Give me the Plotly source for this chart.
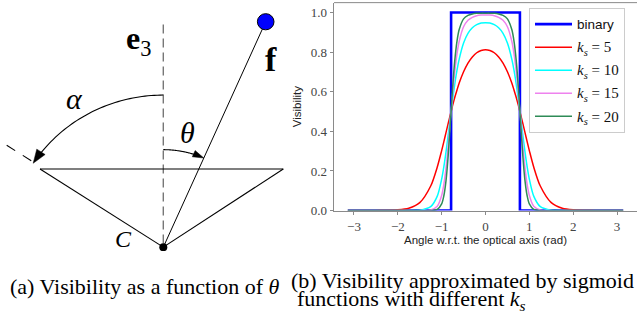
import numpy as np
import plotly.graph_objects as go

# ---------------------------------------------------------------------------
# Visibility vs. angle w.r.t. the optical axis (rad)
# ---------------------------------------------------------------------------
angle = [-3.14, -2.5, -2.0, -1.75, -1.5, -1.25, -1.1, -1.0, -0.95, -0.9, -0.85,
         -0.785, -0.75, -0.7, -0.65, -0.6, -0.5, -0.4, -0.3, -0.2, -0.1, 0.0,
         0.1, 0.2, 0.3, 0.4, 0.5, 0.6, 0.65, 0.7, 0.75, 0.785, 0.85, 0.9, 0.95,
         1.0, 1.1, 1.25, 1.5, 1.75, 2.0, 2.5, 3.14]

vis_k5 = [0.0, 0.001, 0.004, 0.012, 0.040, 0.124, 0.220, 0.303, 0.348, 0.395, 0.441,
          0.5, 0.531, 0.572, 0.609, 0.644, 0.701, 0.745, 0.776, 0.797, 0.808, 0.812,
          0.808, 0.797, 0.776, 0.745, 0.701, 0.644, 0.609, 0.572, 0.531, 0.5,
          0.441, 0.395, 0.348, 0.303, 0.220, 0.124, 0.040, 0.012, 0.004, 0.001, 0.0]

vis_k10 = [0.0, 0.0, 0.0, 0.0, 0.002, 0.020, 0.073, 0.159, 0.222, 0.298, 0.384,
           0.5, 0.561, 0.640, 0.709, 0.765, 0.846, 0.895, 0.923, 0.939, 0.947, 0.949,
           0.947, 0.939, 0.923, 0.895, 0.846, 0.765, 0.709, 0.640, 0.561, 0.5,
           0.384, 0.298, 0.222, 0.159, 0.073, 0.020, 0.002, 0.0, 0.0, 0.0, 0.0]

vis_k15 = [0.0, 0.0, 0.0, 0.0, 0.0, 0.003, 0.022, 0.076, 0.132, 0.217, 0.330,
           0.5, 0.591, 0.704, 0.792, 0.855, 0.928, 0.961, 0.976, 0.984, 0.987, 0.988,
           0.987, 0.984, 0.976, 0.961, 0.928, 0.855, 0.792, 0.704, 0.591, 0.5,
           0.330, 0.217, 0.132, 0.076, 0.022, 0.003, 0.0, 0.0, 0.0, 0.0, 0.0]

vis_k20 = [0.0, 0.0, 0.0, 0.0, 0.0, 0.0, 0.006, 0.034, 0.075, 0.153, 0.281,
           0.5, 0.621, 0.760, 0.856, 0.914, 0.968, 0.986, 0.993, 0.996, 0.997, 0.997,
           0.997, 0.996, 0.993, 0.986, 0.968, 0.914, 0.856, 0.760, 0.621, 0.5,
           0.281, 0.153, 0.075, 0.034, 0.006, 0.0, 0.0, 0.0, 0.0, 0.0, 0.0]

binary_angle = [-3.14, -0.785, -0.785, 0.785, 0.785, 3.14]
binary_vis = [0, 0, 1, 1, 0, 0]

ks_values = [5, 10, 15, 20]
ks_series = [vis_k5, vis_k10, vis_k15, vis_k20]
ks_colors = ["#ff0000", "#00ffff", "#ee82ee", "#2e8b57"]

x_ticks = [-3, -2, -1, 0, 1, 2, 3]
y_ticks = [0.0, 0.2, 0.4, 0.6, 0.8, 1.0]

W, H = 637, 320
SERIF = "Liberation Serif"
SANS = "Liberation Sans"

fig = go.Figure()

fig.add_trace(go.Scatter(
    x=binary_angle, y=binary_vis, mode="lines", name="binary",
    line=dict(color="#0000ff", width=2.6), legendgroup="binary",
    xaxis="x", yaxis="y"))

for k, vis, col in zip(ks_values, ks_series, ks_colors):
    label = ('<span style="font-family:Liberation Serif;font-size:15px">'
             f'<i>k</i><sub><i>s</i></sub> = {k}</span>')
    fig.add_trace(go.Scatter(
        x=angle, y=vis, mode="lines", name=label, legendgroup=f"k{k}",
        line=dict(color=col, width=1.5, shape="spline", smoothing=0.8),
        xaxis="x", yaxis="y"))

# ---------------------------------------------------------------------------
# Camera field-of-view sketch (pixel-space helper axes)
# ---------------------------------------------------------------------------
APEX = (163.3, 253.5)
CONE_Y = 173.3
CONE_LEFT_X, CONE_RIGHT_X = 40.0, 283.3
AXIS_TOP_Y = 25.0
FEATURE = (265.7, 22.3)
FEATURE_R = 8.3
ALPHA_R, ALPHA_END = 156.0, np.radians(56.5)
THETA_R = 100.0
THETA_END = np.arctan2(FEATURE[0] - APEX[0], APEX[1] - FEATURE[1])
FOV_EXT = [(6.7, 149.0), (33.0, 166.0)]


def arc_point(r, a, side):
    return APEX[0] + side * r * np.sin(a), APEX[1] - r * np.cos(a)


def arc_path(r, a0, a1, side, n=48):
    pts = [arc_point(r, a, side) for a in np.linspace(a0, a1, n)]
    return "M " + " L ".join(f"{x:.2f},{y:.2f}" for x, y in pts)


def head_path(r, a, side, length, width):
    tx, ty = arc_point(r, a, side)
    dx, dy = side * np.cos(a), np.sin(a)
    bx, by = tx - length * dx, ty - length * dy
    nx, ny = -dy, dx
    c1 = (bx + nx * width / 2, by + ny * width / 2)
    c2 = (bx - nx * width / 2, by - ny * width / 2)
    return f"M {tx:.2f},{ty:.2f} L {c1[0]:.2f},{c1[1]:.2f} L {c2[0]:.2f},{c2[1]:.2f} Z"


ref2 = dict(xref="x2", yref="y2")
shapes = []
# optical axis e3
shapes.append(dict(type="line", x0=APEX[0], y0=AXIS_TOP_Y, x1=APEX[0], y1=APEX[1],
                   line=dict(color="#777777", width=1.4, dash="9px,5px"), **ref2))
# field-of-view cone
shapes.append(dict(type="line", x0=CONE_LEFT_X, y0=CONE_Y, x1=CONE_RIGHT_X, y1=CONE_Y,
                   line=dict(color="black", width=1.1), **ref2))
shapes.append(dict(type="line", x0=CONE_LEFT_X, y0=CONE_Y, x1=APEX[0], y1=APEX[1],
                   line=dict(color="black", width=1.1), **ref2))
shapes.append(dict(type="line", x0=CONE_RIGHT_X, y0=CONE_Y, x1=APEX[0], y1=APEX[1],
                   line=dict(color="black", width=1.1), **ref2))
shapes.append(dict(type="line", x0=FOV_EXT[0][0], y0=FOV_EXT[0][1],
                   x1=FOV_EXT[1][0], y1=FOV_EXT[1][1],
                   line=dict(color="black", width=1.1, dash="10px,9px"), **ref2))
# line of sight to feature f
shapes.append(dict(type="line", x0=APEX[0], y0=APEX[1], x1=FEATURE[0], y1=FEATURE[1],
                   line=dict(color="black", width=1.0), **ref2))
# alpha arc + head
shapes.append(dict(type="path", path=arc_path(ALPHA_R, 0, ALPHA_END - 10 / ALPHA_R, -1),
                   line=dict(color="black", width=1.1), **ref2))
shapes.append(dict(type="path", path=head_path(ALPHA_R, ALPHA_END, -1, 14, 10),
                   fillcolor="black", line=dict(color="black", width=0.5), **ref2))
# theta arc + head
shapes.append(dict(type="path", path=arc_path(THETA_R, 0, THETA_END - 8 / THETA_R, 1),
                   line=dict(color="black", width=1.1), **ref2))
shapes.append(dict(type="path", path=head_path(THETA_R, THETA_END, 1, 11, 7),
                   fillcolor="black", line=dict(color="black", width=0.5), **ref2))
# feature point and camera centre
shapes.append(dict(type="circle", x0=FEATURE[0] - FEATURE_R, x1=FEATURE[0] + FEATURE_R,
                   y0=FEATURE[1] - FEATURE_R, y1=FEATURE[1] + FEATURE_R,
                   fillcolor="#0000ff", line=dict(color="black", width=1), **ref2))
shapes.append(dict(type="circle", x0=APEX[0] - 4, x1=APEX[0] + 4,
                   y0=APEX[1] - 4, y1=APEX[1] + 4,
                   fillcolor="black", line=dict(color="black", width=0), **ref2))
# top spine of the plot
shapes.append(dict(type="line", xref="paper", yref="paper", x0=334 / W, x1=1.0,
                   y0=1 - 2.7 / H, y1=1 - 2.7 / H, line=dict(color="#8a8a8a", width=1)))

annotations = []


def label(text, x, y, size, xanchor="center"):
    annotations.append(dict(text=text, x=x, y=y, showarrow=False, xanchor=xanchor,
                            yanchor="middle", font=dict(family=SERIF, size=size, color="black"),
                            **ref2))


label("<b>e</b><sub>3</sub>", 124, 42, 32, xanchor="left")
label("<b>f</b>", 271, 61, 34)
label("<i>α</i>", 74, 101, 30)
label("<i>θ</i>", 187, 136, 30)
label("<i>C</i>", 123, 245, 24)

# sub-captions
label("(a) Visibility as a function of <i>θ</i>", 8, 294, 22, xanchor="left")
label("(b) Visibility approximated by sigmoid", 289, 288, 22, xanchor="left")
label("functions with different <i>k</i><sub><i>s</i></sub>", 295, 308, 22, xanchor="left")

axis_common = dict(showgrid=False, zeroline=False, showline=True, linecolor="#8a8a8a",
                   linewidth=1, ticks="outside", ticklen=3.5, tickwidth=1, tickcolor="#8a8a8a",
                   tickfont=dict(family=SERIF, size=13, color="#444444"), fixedrange=True)

fig.update_layout(
    width=W, height=H, margin=dict(l=0, r=0, t=0, b=0),
    paper_bgcolor="white", plot_bgcolor="rgba(0,0,0,0)",
    xaxis=dict(domain=[334 / W, 1.0], range=[-3.456, 3.456], tickvals=x_ticks,
               title=dict(text="Angle w.r.t. the optical axis (rad)", standoff=2,
                          font=dict(family=SANS, size=11.5, color="#222222")),
               **axis_common),
    yaxis=dict(domain=[1 - 216 / H, 1 - 2.7 / H], range=[0, 1.05], tickvals=y_ticks,
               tickformat=".1f",
               title=dict(text="Visibility", standoff=6,
                          font=dict(family=SANS, size=11.5, color="#222222")),
               **axis_common),
    xaxis2=dict(domain=[0, 1], range=[0, W], visible=False, fixedrange=True),
    yaxis2=dict(domain=[0, 1], range=[H, 0], visible=False, fixedrange=True),
    legend=dict(x=529 / W, y=1 - 8 / H, xanchor="left", yanchor="top",
                bgcolor="rgba(255,255,255,0.85)", bordercolor="#cccccc", borderwidth=1,
                font=dict(family=SANS, size=13.5, color="#111111"),
                tracegroupgap=2.5, itemwidth=37),
    shapes=shapes, annotations=annotations, showlegend=True,
)

# invisible anchor so the sketch axes exist
fig.add_trace(go.Scatter(x=[0], y=[0], xaxis="x2", yaxis="y2", mode="markers",
                         marker=dict(opacity=0), showlegend=False, hoverinfo="skip"))

fig.write_html("out.html", config=dict(displayModeBar=False))
